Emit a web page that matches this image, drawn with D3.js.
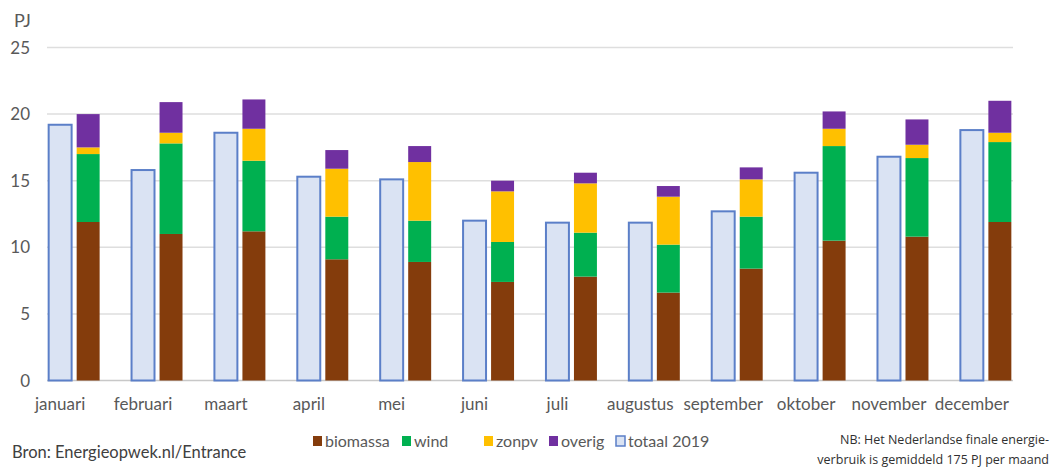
<!DOCTYPE html>
<html>
<head>
<meta charset="utf-8">
<script src="https://cdn.jsdelivr.net/npm/d3@7"></script>
<style>
  body { margin: 0; background: #fff; }
  text { font-family: Lato, "Open Sans", sans-serif; fill: #595959; }
</style>
</head>
<body>
<div id="chart"></div>
<script>
// Maandelijkse hernieuwbare productie (PJ).
var months = ['januari', 'februari', 'maart', 'april', 'mei', 'juni', 'juli',
              'augustus', 'september', 'oktober', 'november', 'december'];
var biomassa = [11.9, 11.0, 11.2, 9.1, 8.9, 7.4, 7.8, 6.6, 8.4, 10.5, 10.8, 11.9];
var wind     = [5.1, 6.8, 5.3, 3.2, 3.1, 3.0, 3.3, 3.6, 3.9, 7.1, 5.9, 6.0];
var zonpv    = [0.5, 0.8, 2.4, 3.6, 4.4, 3.8, 3.7, 3.6, 2.8, 1.3, 1.0, 0.7];
var overig   = [2.5, 2.3, 2.2, 1.4, 1.2, 0.8, 0.8, 0.8, 0.9, 1.3, 1.9, 2.4];
var totaal2019 = [19.2, 15.8, 18.6, 15.3, 15.1, 12.0, 11.85, 11.85, 12.7, 15.6, 16.8, 18.8];
var yTicks = [0, 5, 10, 15, 20, 25];

var seriesKeys = ['biomassa', 'wind', 'zonpv', 'overig'];
var COLORS = {biomassa: '#843c0c', wind: '#00b050', zonpv: '#ffc000', overig: '#7030a0'};
var TOTAL_FILL = '#dae3f3';
var TOTAL_STROKE = '#5b7fc8';

var WIDTH = 1052, HEIGHT = 469;
var LEFT = 47, RIGHT = 1013, TOP = 47.5, BOTTOM = 380.5;

function main() {
  var rows = months.map(function(m, i) {
    return {month: m, biomassa: biomassa[i], wind: wind[i], zonpv: zonpv[i],
            overig: overig[i], totaal: totaal2019[i]};
  });

  var svg = d3.select('#chart').append('svg')
    .attr('width', WIDTH)
    .attr('height', HEIGHT);

  var x = d3.scaleBand().domain(months).range([LEFT, RIGHT])
    .paddingInner(0.385).paddingOuter(0.02);
  var xs = d3.scaleBand().domain(['totaal', 'stack']).range([0, x.bandwidth()])
    .paddingInner(0.18);
  var y = d3.scaleLinear().domain([0, 25]).range([BOTTOM, TOP]);

  // Gridlines and tick labels
  svg.append('g').selectAll('line')
    .data(yTicks)
  .enter().append('line')
    .attr('x1', LEFT).attr('x2', RIGHT)
    .attr('y1', function(d) { return y(d); })
    .attr('y2', function(d) { return y(d); })
    .attr('stroke', function(d) { return d == 0 ? '#c8c8c8' : '#dedede'; })
    .attr('stroke-width', 1.5);

  svg.append('g').selectAll('text')
    .data(yTicks)
  .enter().append('text')
    .attr('x', 30)
    .attr('y', function(d) { return y(d); })
    .attr('dy', '0.36em')
    .attr('text-anchor', 'end')
    .style('font-size', '17px')
    .text(function(d) { return d; });

  svg.append('text')
    .attr('x', 14).attr('y', 27)
    .style('font-size', '18px')
    .text('PJ');

  // Totaal 2019 bars
  svg.append('g').selectAll('rect')
    .data(rows)
  .enter().append('rect')
    .attr('x', function(d) { return x(d.month) + xs('totaal'); })
    .attr('y', function(d) { return y(d.totaal); })
    .attr('width', xs.bandwidth())
    .attr('height', function(d) { return y(0) - y(d.totaal); })
    .attr('fill', TOTAL_FILL)
    .attr('stroke', TOTAL_STROKE)
    .attr('stroke-width', 2);

  // Stacked renewables
  var stacked = d3.stack().keys(seriesKeys)(rows);
  svg.append('g').selectAll('g')
    .data(stacked)
  .enter().append('g')
    .attr('fill', function(s) { return COLORS[s.key]; })
  .selectAll('rect')
    .data(function(s) { return s; })
  .enter().append('rect')
    .attr('x', function(d) { return x(d.data.month) + xs('stack'); })
    .attr('y', function(d) { return y(d[1]); })
    .attr('width', xs.bandwidth())
    .attr('height', function(d) { return y(d[0]) - y(d[1]); });

  // Month labels, centred under the totaal bar
  svg.append('g').selectAll('text')
    .data(months)
  .enter().append('text')
    .attr('x', function(m) { return x(m) + xs('totaal') + xs.bandwidth() / 2; })
    .attr('y', 410)
    .attr('text-anchor', 'middle')
    .style('font-size', '17px')
    .text(function(m) { return m; });

  // Legend
  var legend = [
    {label: 'biomassa', x: 313, fill: COLORS.biomassa},
    {label: 'wind', x: 402, fill: COLORS.wind},
    {label: 'zonpv', x: 484, fill: COLORS.zonpv},
    {label: 'overig', x: 549, fill: COLORS.overig},
    {label: 'totaal 2019', x: 616, fill: TOTAL_FILL, stroke: TOTAL_STROKE}
  ];
  var li = svg.append('g').selectAll('g')
    .data(legend)
  .enter().append('g')
    .attr('transform', function(d) { return 'translate(' + d.x + ',441)'; });
  li.append('rect')
    .attr('x', 0).attr('y', -5)
    .attr('width', 9).attr('height', 10)
    .attr('fill', function(d) { return d.fill; })
    .attr('stroke', function(d) { return d.stroke || 'none'; })
    .attr('stroke-width', 1.5);
  li.append('text')
    .attr('x', 12).attr('y', 0).attr('dy', '0.35em')
    .style('font-size', '16px')
    .text(function(d) { return d.label; });

  svg.append('text')
    .attr('x', 12).attr('y', 458)
    .style('font-size', '16.5px')
    .style('fill', '#404040')
    .text('Bron: Energieopwek.nl/Entrance');

  var note = svg.append('text')
    .attr('text-anchor', 'end')
    .style('font-size', '12.5px')
    .style('fill', '#303030')
    .style('font-family', '"Liberation Sans Narrow", "Open Sans", sans-serif');
  note.append('tspan').attr('x', 1049).attr('y', 444).text('NB: Het Nederlandse finale energie-');
  note.append('tspan').attr('x', 1049).attr('y', 464).text('verbruik is gemiddeld 175 PJ per maand');
}
main();
</script>
</body>
</html>
